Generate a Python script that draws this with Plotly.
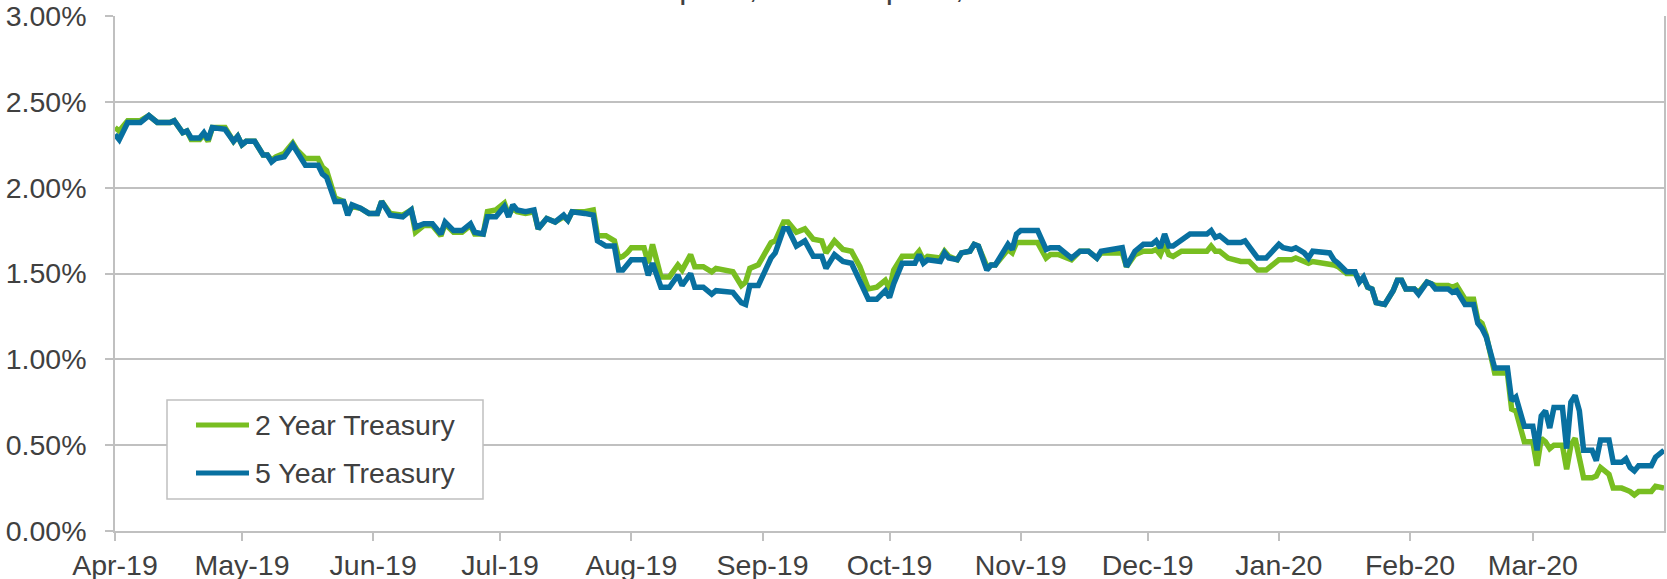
import plotly.graph_objects as go

# ---- data ----
dates = [
    # Apr 2019
    "2019-04-01", "2019-04-02", "2019-04-04", "2019-04-07", "2019-04-09", "2019-04-11", "2019-04-14", "2019-04-15",
    "2019-04-17", "2019-04-18", "2019-04-19", "2019-04-21", "2019-04-22", "2019-04-23", "2019-04-24", "2019-04-27",
    "2019-04-29", "2019-04-30",
    # May 2019
    "2019-05-01", "2019-05-02", "2019-05-04", "2019-05-06", "2019-05-07", "2019-05-08", "2019-05-09", "2019-05-11",
    "2019-05-13", "2019-05-14", "2019-05-16", "2019-05-19", "2019-05-20", "2019-05-21", "2019-05-23", "2019-05-25",
    "2019-05-26", "2019-05-27", "2019-05-29", "2019-05-31",
    # Jun 2019
    "2019-06-02", "2019-06-03", "2019-06-05", "2019-06-08", "2019-06-10", "2019-06-11", "2019-06-13", "2019-06-15",
    "2019-06-17", "2019-06-18", "2019-06-20", "2019-06-22", "2019-06-24", "2019-06-25", "2019-06-27", "2019-06-28",
    "2019-06-30",
    # Jul 2019
    "2019-07-02", "2019-07-03", "2019-07-04", "2019-07-05", "2019-07-07", "2019-07-09", "2019-07-10", "2019-07-12",
    "2019-07-14", "2019-07-16", "2019-07-17", "2019-07-18", "2019-07-21", "2019-07-23", "2019-07-24", "2019-07-26",
    "2019-07-28", "2019-07-29", "2019-07-30", "2019-07-31",
    # Aug 2019
    "2019-08-01", "2019-08-04", "2019-08-05", "2019-08-06", "2019-08-08", "2019-08-10", "2019-08-12", "2019-08-13",
    "2019-08-15", "2019-08-16", "2019-08-18", "2019-08-20", "2019-08-21", "2019-08-25", "2019-08-27", "2019-08-28",
    "2019-08-29", "2019-08-31",
    # Sep 2019
    "2019-09-03", "2019-09-04", "2019-09-06", "2019-09-07", "2019-09-09", "2019-09-11", "2019-09-13", "2019-09-15",
    "2019-09-16", "2019-09-18", "2019-09-20", "2019-09-22", "2019-09-24", "2019-09-26", "2019-09-28", "2019-09-30",
    # Oct 2019
    "2019-10-01", "2019-10-02", "2019-10-04", "2019-10-07", "2019-10-08", "2019-10-09", "2019-10-10", "2019-10-13",
    "2019-10-14", "2019-10-15", "2019-10-17", "2019-10-18", "2019-10-20", "2019-10-21", "2019-10-22", "2019-10-24",
    "2019-10-25", "2019-10-26", "2019-10-29", "2019-10-30", "2019-10-31",
    # Nov 2019
    "2019-11-01", "2019-11-05", "2019-11-07", "2019-11-08", "2019-11-10", "2019-11-13", "2019-11-15", "2019-11-17",
    "2019-11-19", "2019-11-20", "2019-11-24", "2019-11-25", "2019-11-26", "2019-11-28", "2019-11-30",
    # Dec 2019
    "2019-12-02", "2019-12-03", "2019-12-04", "2019-12-05", "2019-12-06", "2019-12-07", "2019-12-09", "2019-12-11",
    "2019-12-15", "2019-12-16", "2019-12-17", "2019-12-18", "2019-12-20", "2019-12-23", "2019-12-24", "2019-12-25",
    "2019-12-27", "2019-12-29", "2019-12-30",
    # Jan 2020
    "2020-01-01", "2020-01-02", "2020-01-04", "2020-01-05", "2020-01-07", "2020-01-08", "2020-01-09", "2020-01-13",
    "2020-01-14", "2020-01-15", "2020-01-17", "2020-01-19", "2020-01-20", "2020-01-21", "2020-01-22", "2020-01-23",
    "2020-01-24", "2020-01-26", "2020-01-28", "2020-01-29", "2020-01-30", "2020-01-31",
    # Feb 2020
    "2020-02-02", "2020-02-03", "2020-02-05", "2020-02-06", "2020-02-07", "2020-02-10", "2020-02-11", "2020-02-12",
    "2020-02-14", "2020-02-16", "2020-02-17", "2020-02-18", "2020-02-19", "2020-02-21", "2020-02-24", "2020-02-25",
    "2020-02-26", "2020-02-28",
    # Mar 2020
    "2020-03-01", "2020-03-02", "2020-03-03", "2020-03-04", "2020-03-05", "2020-03-06", "2020-03-08", "2020-03-09",
    "2020-03-10", "2020-03-11", "2020-03-12", "2020-03-13", "2020-03-15", "2020-03-16", "2020-03-17", "2020-03-19",
    "2020-03-20", "2020-03-22", "2020-03-23", "2020-03-24", "2020-03-25", "2020-03-26", "2020-03-29", "2020-03-30",
    "2020-04-01",
]

two_year = [
    2.35, 2.33, 2.39, 2.39, 2.42, 2.38, 2.38, 2.39, 2.32, 2.33, 2.28, 2.28, 2.31, 2.27, 2.35, 2.35, 2.27, 2.30,
    2.25, 2.27, 2.27, 2.19, 2.19, 2.16, 2.18, 2.20, 2.26, 2.22, 2.17, 2.17, 2.12, 2.10, 1.94, 1.92, 1.85, 1.89, 1.88, 1.85,
    1.85, 1.92, 1.85, 1.84, 1.87, 1.74, 1.78, 1.78, 1.72, 1.79, 1.74, 1.74, 1.78, 1.73, 1.73, 1.86, 1.87,
    1.91, 1.84, 1.88, 1.86, 1.85, 1.86, 1.76, 1.82, 1.80, 1.83, 1.81, 1.86, 1.86, 1.87, 1.72, 1.72, 1.69, 1.59, 1.60, 1.62,
    1.65, 1.65, 1.56, 1.67, 1.48, 1.48, 1.55, 1.52, 1.61, 1.54, 1.54, 1.51, 1.53, 1.51, 1.43, 1.45, 1.53, 1.55,
    1.68, 1.69, 1.80, 1.80, 1.74, 1.76, 1.70, 1.69, 1.62, 1.69, 1.64, 1.63, 1.54, 1.41, 1.42, 1.46,
    1.41, 1.52, 1.60, 1.60, 1.63, 1.58, 1.60, 1.59, 1.63, 1.60, 1.58, 1.62, 1.63, 1.67, 1.66, 1.54, 1.55, 1.55, 1.64, 1.62, 1.68,
    1.68, 1.68, 1.59, 1.61, 1.61, 1.58, 1.63, 1.63, 1.59, 1.62, 1.62, 1.62, 1.54, 1.61, 1.63,
    1.63, 1.64, 1.61, 1.67, 1.61, 1.60, 1.63, 1.63, 1.63, 1.66, 1.63, 1.63, 1.59, 1.57, 1.57, 1.57, 1.52, 1.52, 1.54,
    1.58, 1.58, 1.58, 1.59, 1.57, 1.56, 1.57, 1.56, 1.55, 1.54, 1.50, 1.50, 1.46, 1.47, 1.42, 1.41, 1.33, 1.32, 1.40, 1.46, 1.46, 1.41,
    1.41, 1.39, 1.45, 1.44, 1.43, 1.43, 1.42, 1.43, 1.35, 1.35, 1.23, 1.21, 1.14, 0.92, 0.92, 0.71, 0.70, 0.52,
    0.52, 0.38, 0.54, 0.52, 0.48, 0.50, 0.50, 0.36, 0.50, 0.54, 0.43, 0.31, 0.31, 0.32, 0.37, 0.33, 0.25, 0.25, 0.24, 0.23,
    0.21, 0.23, 0.23, 0.26, 0.25,
]

five_year = [
    2.31, 2.28, 2.38, 2.38, 2.42, 2.38, 2.38, 2.39, 2.32, 2.33, 2.29, 2.29, 2.32, 2.28, 2.35, 2.34, 2.27, 2.30,
    2.25, 2.27, 2.27, 2.19, 2.19, 2.15, 2.17, 2.18, 2.25, 2.21, 2.13, 2.13, 2.08, 2.06, 1.92, 1.92, 1.84, 1.90, 1.88, 1.85,
    1.85, 1.92, 1.84, 1.83, 1.87, 1.77, 1.79, 1.79, 1.73, 1.80, 1.75, 1.75, 1.79, 1.74, 1.73, 1.83, 1.83,
    1.89, 1.83, 1.90, 1.87, 1.86, 1.87, 1.76, 1.82, 1.80, 1.84, 1.81, 1.86, 1.85, 1.84, 1.69, 1.66, 1.66, 1.52, 1.52, 1.55,
    1.58, 1.58, 1.49, 1.56, 1.42, 1.42, 1.49, 1.43, 1.50, 1.42, 1.42, 1.38, 1.40, 1.39, 1.33, 1.32, 1.43, 1.43,
    1.59, 1.62, 1.76, 1.76, 1.66, 1.69, 1.60, 1.60, 1.53, 1.61, 1.57, 1.56, 1.46, 1.35, 1.35, 1.40,
    1.36, 1.44, 1.56, 1.56, 1.61, 1.56, 1.58, 1.57, 1.62, 1.59, 1.58, 1.62, 1.63, 1.67, 1.66, 1.52, 1.55, 1.55, 1.67, 1.64, 1.73,
    1.75, 1.75, 1.64, 1.65, 1.65, 1.59, 1.63, 1.63, 1.59, 1.63, 1.64, 1.65, 1.54, 1.63, 1.67,
    1.67, 1.69, 1.65, 1.73, 1.66, 1.66, 1.70, 1.73, 1.73, 1.75, 1.71, 1.72, 1.68, 1.68, 1.69, 1.66, 1.59, 1.59, 1.62,
    1.67, 1.65, 1.64, 1.65, 1.62, 1.59, 1.63, 1.62, 1.58, 1.56, 1.51, 1.51, 1.45, 1.48, 1.42, 1.41, 1.33, 1.32, 1.40, 1.46, 1.46, 1.41,
    1.41, 1.38, 1.45, 1.44, 1.41, 1.41, 1.39, 1.40, 1.32, 1.32, 1.21, 1.18, 1.13, 0.95, 0.95, 0.76, 0.78, 0.61,
    0.61, 0.47, 0.67, 0.70, 0.60, 0.72, 0.72, 0.48, 0.75, 0.79, 0.70, 0.47, 0.47, 0.41, 0.53, 0.53, 0.40, 0.40, 0.42, 0.37,
    0.35, 0.38, 0.38, 0.43, 0.47,
]

series_names = ["2 Year Treasury", "5 Year Treasury"]
month_ticks = ["2019-04-01", "2019-05-01", "2019-06-01", "2019-07-01", "2019-08-01", "2019-09-01",
               "2019-10-01", "2019-11-01", "2019-12-01", "2020-01-01", "2020-02-01", "2020-03-01"]
title_text = "April 1, 2019 - April 1, 2020"

assert len(dates) == len(two_year) == len(five_year)

# ---- styling ----
GREEN = "#78BE21"
BLUE = "#0870A0"
GRID = "#C0C0C0"
TEXT = "#404040"
FONT = "Liberation Sans, Arial, sans-serif"
FS = 28.5

fig = go.Figure()
fig.add_trace(go.Scatter(x=dates, y=two_year, mode="lines", name=series_names[0],
                         line=dict(color=GREEN, width=5.5), showlegend=False))
fig.add_trace(go.Scatter(x=dates, y=five_year, mode="lines", name=series_names[1],
                         line=dict(color=BLUE, width=5.5), showlegend=False))

fig.update_layout(
    width=1667, height=579,
    margin=dict(l=115, r=3, t=16, b=48),
    paper_bgcolor="white", plot_bgcolor="white",
    font=dict(family=FONT, size=FS, color=TEXT),
    xaxis=dict(
        type="date", range=["2019-04-01", "2020-04-01"],
        tickvals=month_ticks, tickformat="%b-%y",
        ticks="outside", ticklen=8, tickwidth=1.5, tickcolor=GRID,
        showgrid=False, showline=True, linecolor=GRID, linewidth=1.5,
        tickfont=dict(family=FONT, size=FS, color=TEXT),
        ticklabelstandoff=0, automargin=False, ticklabeloverflow="allow",
    ),
    yaxis=dict(
        range=[0, 3], dtick=0.5, tick0=0, tickformat=".2f", ticksuffix="%",
        ticks="outside", ticklen=8, tickwidth=1.5, tickcolor=GRID,
        showgrid=True, gridcolor=GRID, gridwidth=1.5,
        showline=True, mirror=True, linecolor=GRID, linewidth=1.5,
        zeroline=False,
        tickfont=dict(family=FONT, size=FS, color=TEXT),
        ticklabelstandoff=13, automargin=False, ticklabeloverflow="allow",
    ),
)

# cut-off title at the very top
fig.add_annotation(text=title_text, xref="paper", yref="paper", x=0.4752, y=1.0555,
                   xanchor="center", yanchor="middle", showarrow=False,
                   font=dict(family=FONT, size=32, color=TEXT))

# legend box (drawn manually to match the reference layout)
def px_x(p):
    return (p - 115) / 1549.0

def px_y(p):
    return (531 - p) / 515.0

fig.add_shape(type="rect", xref="paper", yref="paper",
              x0=px_x(167), x1=px_x(483), y0=px_y(499), y1=px_y(400),
              line=dict(color=GRID, width=1.5), fillcolor="white", layer="above")
for name, color, yy in [(series_names[0], GREEN, 425), (series_names[1], BLUE, 473)]:
    fig.add_shape(type="line", xref="paper", yref="paper",
                  x0=px_x(196), x1=px_x(249), y0=px_y(yy), y1=px_y(yy),
                  line=dict(color=color, width=5), layer="above")
    fig.add_annotation(text=name, xref="paper", yref="paper", x=px_x(253), y=px_y(yy),
                       xanchor="left", yanchor="middle", showarrow=False,
                       font=dict(family=FONT, size=FS, color=TEXT))

# remove the default page margin so the figure sits at the window's top-left corner
page_fix = ("document.body.style.margin='0';document.body.style.padding='0';"
            "document.documentElement.style.overflow='hidden';")

fig.write_html("out.html", post_script=page_fix, config={"displayModeBar": False})
